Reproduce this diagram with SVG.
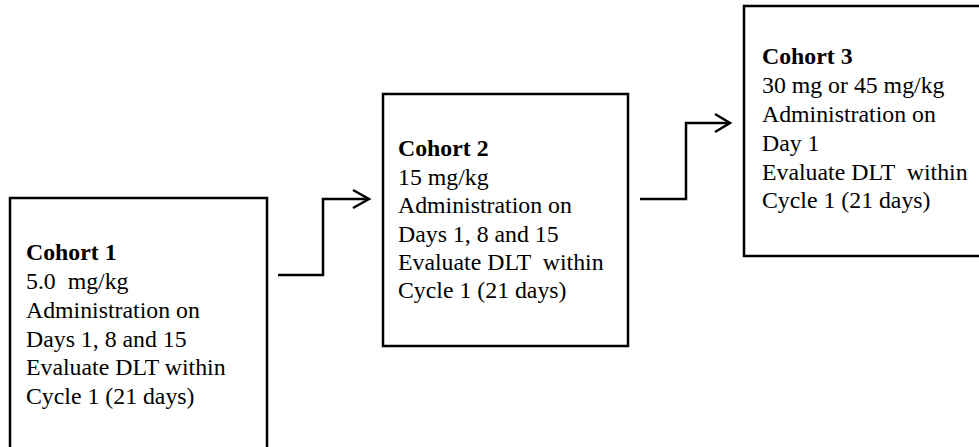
<svg xmlns="http://www.w3.org/2000/svg" width="979" height="447" viewBox="0 0 979 447">
<style>
.box{fill:#fff;stroke:#000;stroke-width:2.5}
.t{font-family:"Liberation Serif","Times New Roman",serif;font-size:23.8px;fill:#000}
.b{font-weight:bold}
.c{fill:none;stroke:#000;stroke-width:2.5}
</style>
<rect x="0" y="0" width="979" height="447" fill="#fff"/>
<g id="cohort1">
<rect class="box" x="10" y="198" width="257" height="262"/>
<text class="t" xml:space="preserve"><tspan class="b" x="26" y="260">Cohort 1</tspan><tspan x="26" y="289">5.0  mg/kg</tspan><tspan x="26" y="318">Administration on</tspan><tspan x="26" y="347">Days 1, 8 and 15</tspan><tspan x="26" y="375">Evaluate DLT within</tspan><tspan x="26" y="404">Cycle 1 (21 days)</tspan></text>
</g>
<g id="cohort2">
<rect class="box" x="383" y="94" width="245" height="252"/>
<text class="t" xml:space="preserve"><tspan class="b" x="398" y="156">Cohort 2</tspan><tspan x="398" y="185">15 mg/kg</tspan><tspan x="398" y="213">Administration on</tspan><tspan x="398" y="242">Days 1, 8 and 15</tspan><tspan x="398" y="270">Evaluate DLT  within</tspan><tspan x="398" y="298">Cycle 1 (21 days)</tspan></text>
</g>
<g id="cohort3">
<rect class="box" x="744" y="6" width="245" height="250"/>
<text class="t" xml:space="preserve"><tspan class="b" x="762" y="64">Cohort 3</tspan><tspan x="762" y="93">30 mg or 45 mg/kg</tspan><tspan x="762" y="122">Administration on</tspan><tspan x="762" y="151">Day 1</tspan><tspan x="762" y="180">Evaluate DLT  within</tspan><tspan x="762" y="208">Cycle 1 (21 days)</tspan></text>
</g>
<g id="connectors">
<polyline class="c" points="278,275 323,275 323,199 368,199"/>
<polyline class="c" points="353,190 369,199 353,208"/>
<polyline class="c" points="640,199 686,199 686,123 729,123"/>
<polyline class="c" points="715,114 730,123 715,132"/>
</g>
</svg>
